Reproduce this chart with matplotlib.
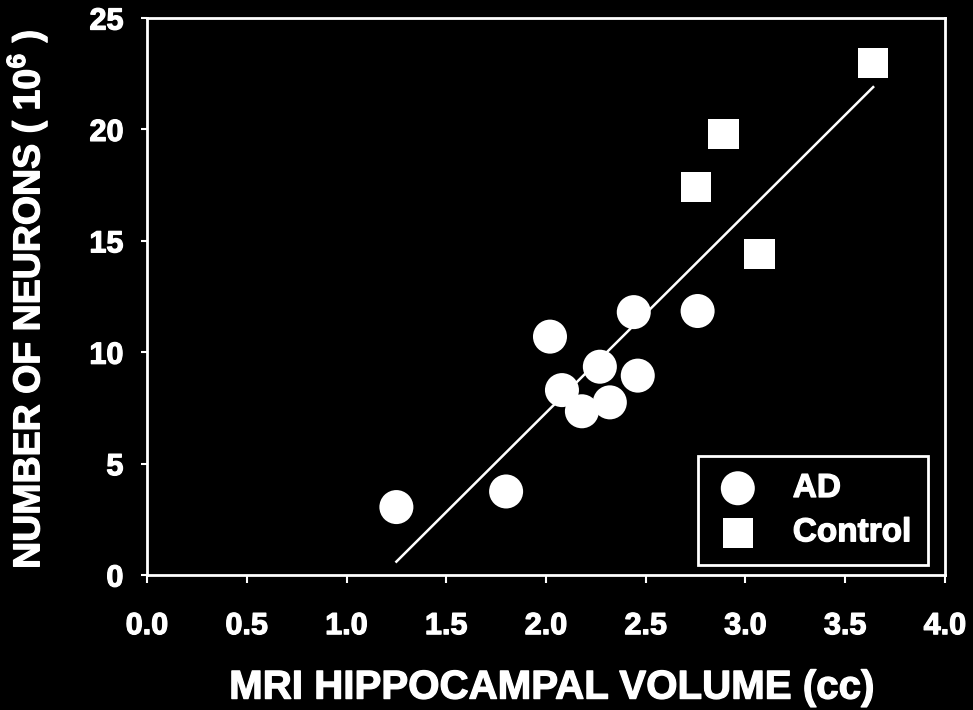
"""
plot.py
-------
Neuron count vs. MRI hippocampal volume, AD patients and controls.
Recreates the scatter with the regression line on a black background.
"""

import matplotlib
matplotlib.use("Agg")
import matplotlib.pyplot as plt
import matplotlib.patheffects as pe

# AD patients (circles)
ad_volume = [1.25, 1.80, 2.02, 2.08, 2.18, 2.27, 2.32, 2.44, 2.46, 2.76]
ad_neurons = [3.05, 3.75, 10.7, 8.3, 7.35, 9.35, 7.75, 11.8, 8.95, 11.85]

# controls (squares)
ctrl_volume = [2.75, 2.89, 3.07, 3.64]
ctrl_neurons = [17.4, 19.8, 14.4, 23.0]

# regression line end points as drawn
fit_volume = [1.25, 3.64]
fit_neurons = [0.6, 21.9]

x_ticks = [0.0, 0.5, 1.0, 1.5, 2.0, 2.5, 3.0, 3.5, 4.0]
y_ticks = [0, 5, 10, 15, 20, 25]

FG = "white"
BG = "black"
# the scanned lettering is heavier than Liberation Sans Bold
HEAVY = [pe.withStroke(linewidth=0.9, foreground=FG)]


def plot_neurons(save_path: str = "out.png") -> None:
    """Draw the scatter, fit line and legend, then save."""
    plt.rcParams["font.family"] = ["Liberation Sans", "DejaVu Sans"]
    plt.rcParams["font.weight"] = "bold"
    plt.rcParams["mathtext.fontset"] = "custom"
    plt.rcParams["mathtext.rm"] = "Liberation Sans:bold"
    plt.rcParams["mathtext.bf"] = "Liberation Sans:bold"

    fig = plt.figure(figsize=(9.73, 7.10), dpi=100, facecolor=BG)
    ax = fig.add_axes([0.1511, 0.1901, 0.8201, 0.7845], facecolor=BG)

    ax.plot(fit_volume, fit_neurons, color=FG, lw=1.8, zorder=2)
    ax.scatter(ad_volume, ad_neurons, s=600, marker="o", color=FG,
               edgecolors="none", label="AD", zorder=3)
    ax.scatter(ctrl_volume, ctrl_neurons, s=470, marker="s", color=FG,
               edgecolors="none", label="Control", zorder=3)

    ax.set_xlim(0, 4.0)
    ax.set_ylim(0, 25)
    ax.set_xticks(x_ticks)
    ax.set_xticklabels([f"{v:.1f}" for v in x_ticks])
    ax.set_yticks(y_ticks)

    for side in ax.spines.values():
        side.set_color(FG)
        side.set_linewidth(2.0)
    ax.tick_params(axis="x", colors=FG, length=6, width=1.5, pad=20,
                   labelsize=22)
    ax.tick_params(axis="y", colors=FG, length=4, width=1.5, pad=13,
                   labelsize=22)
    for lbl in ax.get_xticklabels() + ax.get_yticklabels():
        lbl.set_fontweight("bold")
        lbl.set_path_effects(HEAVY)

    ax.set_xlabel("MRI HIPPOCAMPAL VOLUME (cc)", color=FG, fontsize=29,
                  fontweight="bold", path_effects=HEAVY)
    ax.xaxis.set_label_coords(0.5075, -0.168)
    ax.set_ylabel(r"NUMBER OF NEURONS ( 10$^{\mathbf{6}}$ )", color=FG,
                  fontsize=27, fontweight="bold", path_effects=HEAVY)
    ax.yaxis.set_label_coords(-0.122, 0.495)

    leg = ax.legend(loc="lower right", bbox_to_anchor=(0.979, 0.018),
                    borderaxespad=0, frameon=True, fancybox=False,
                    framealpha=1, facecolor=BG, edgecolor=FG, fontsize=24,
                    labelspacing=0.4, handlelength=1.4, handletextpad=0.95,
                    borderpad=0.5, scatterpoints=1, markerscale=1.0)
    leg.get_frame().set_linewidth(2.0)
    for txt in leg.get_texts():
        txt.set_color(FG)
        txt.set_fontweight("bold")
        txt.set_path_effects(HEAVY)

    fig.savefig(save_path, dpi=100, facecolor=BG)


if __name__ == "__main__":
    plot_neurons("out.png")
